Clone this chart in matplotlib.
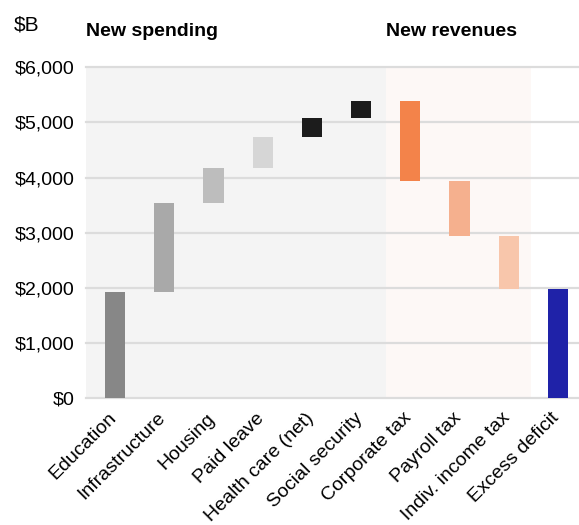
import numpy as np
import matplotlib.pyplot as plt
from matplotlib.transforms import ScaledTranslation

# waterfall: new spending minus new revenues, $B
categories = ['Education', 'Infrastructure', 'Housing', 'Paid leave',
              'Health care (net)', 'Social security', 'Corporate tax',
              'Payroll tax', 'Indiv. income tax', 'Excess deficit']
changes = [1930, 1610, 635, 560, 345, 300, -1450, -985, -955]
deficit = 1990
colors = ['#878787', '#a9a9a9', '#bdbdbd', '#d6d6d6', '#1c1c1c', '#1c1c1c',
          '#f3834a', '#f5b08e', '#f8c6ab', '#1f22a8']
yticks = [0, 1000, 2000, 3000, 4000, 5000, 6000]

plt.rcParams['font.family'] = ['Liberation Sans', 'DejaVu Sans']

ends = np.cumsum(changes)
starts = ends - np.array(changes)
bottoms = list(np.minimum(starts, ends)) + [0]
heights = list(np.abs(changes)) + [deficit]

fig = plt.figure(figsize=(5.79, 5.25), dpi=100)
ax = fig.add_axes([0.1485, 0.241, 0.8515, 0.631])

x = np.arange(len(categories))
ax.set_xlim(-0.59, 9.43)
ax.set_ylim(0, 6000)

# shaded sections for spending and revenues
ax.axvspan(-0.59, 5.5, color='#f4f4f4', zorder=0, lw=0)
ax.axvspan(5.5, 8.45, color='#fdf8f6', zorder=0, lw=0)

for yv in yticks:
    ax.axhline(yv, color='#dcdcdc', lw=1.6, zorder=1, clip_on=False)

ax.bar(x, heights, bottom=bottoms, width=0.41, color=colors, zorder=2)

ax.set_yticks(yticks)
ax.set_yticklabels(['${:,}'.format(v) for v in yticks], fontsize=14)
ax.set_xticks(x)
ax.set_xticklabels(categories, rotation=45, ha='right', rotation_mode='anchor',
                   fontsize=14)
ax.tick_params(length=0, pad=8)
ax.tick_params(axis='y', pad=8)
shift = ScaledTranslation(-7 / 100, 0, fig.dpi_scale_trans)
for lbl in ax.get_xticklabels():
    lbl.set_transform(lbl.get_transform() + shift)
for s in ax.spines.values():
    s.set_visible(False)

fig.text(14 / 579, 1 - 25 / 525, '$B', fontsize=15, va='center', ha='left')
fig.text(86 / 579, 1 - 31 / 525, 'New spending', fontsize=14,
         fontweight='bold', va='center', ha='left')
fig.text(386 / 579, 1 - 31 / 525, 'New revenues', fontsize=14,
         fontweight='bold', va='center', ha='left')

fig.savefig('out.png', dpi=100)
